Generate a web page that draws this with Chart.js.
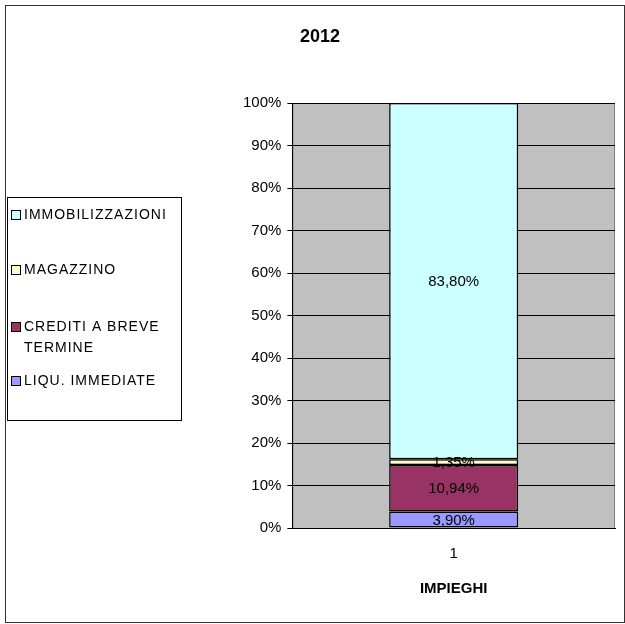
<!DOCTYPE html>
<html lang="it">
<head>
<meta charset="UTF-8">
<title>2012</title>
<script src="https://cdn.jsdelivr.net/npm/chart.js"></script>
<style>
  html, body { margin: 0; padding: 0; background: #fff; }
  #wrap { width: 625px; height: 624px; }
</style>
</head>
<body>
<div id="wrap"><canvas id="canvas" width="625" height="624"></canvas></div>
<script>
// data
const categories = ["1"];
const seriesNames = ["LIQU. IMMEDIATE", "CREDITI A BREVE TERMINE", "MAGAZZINO", "IMMOBILIZZAZIONI"];
const seriesValues = [[3.90], [10.94], [1.35], [83.80]];
const seriesColors = ["#9999FF", "#993366", "#FFFFCC", "#CCFFFF"];
const yTicks = [0, 10, 20, 30, 40, 50, 60, 70, 80, 90, 100];
const chartTitle = "2012";
const xTitle = "IMPIEGHI";

const FONT = "'Liberation Sans', Arial, sans-serif";

function pct(v) {
  return v.toFixed(2).replace(".", ",") + "%";
}

// gray plot background, outer frame, title, legend, value labels
const decor = {
  id: "decor",
  beforeDraw(chart) {
    const { ctx, chartArea: a } = chart;
    ctx.save();
    ctx.fillStyle = "#C0C0C0";
    ctx.fillRect(a.left, a.top, a.right - a.left, a.bottom - a.top);
    ctx.strokeStyle = "#808080";
    ctx.lineWidth = 1;
    ctx.strokeRect(a.left + 0.5, a.top + 0.5, a.right - a.left - 1, a.bottom - a.top);
    ctx.restore();
  },
  afterDraw(chart) {
    const { ctx } = chart;
    ctx.save();
    // outer frame
    ctx.strokeStyle = "#333";
    ctx.lineWidth = 1;
    ctx.strokeRect(5.5, 5.5, 619, 617);

    // title
    ctx.fillStyle = "#000";
    ctx.font = "bold 18px " + FONT;
    ctx.textAlign = "center";
    ctx.textBaseline = "middle";
    ctx.fillText(chartTitle, 320, 37);

    // legend box
    ctx.strokeStyle = "#000";
    ctx.strokeRect(7.5, 197.5, 174, 223);
    ctx.font = "14px " + FONT;
    ctx.letterSpacing = "1px";
    ctx.textAlign = "left";
    const rowsY = [215, 270, 327, 381];
    const ds = chart.data.datasets.slice().reverse();
    ds.forEach((d, i) => {
      const y = rowsY[i];
      ctx.fillStyle = d.backgroundColor;
      ctx.fillRect(11, y - 4, 9, 9);
      ctx.strokeStyle = "#000";
      ctx.strokeRect(11.5, y - 4.5, 9, 9);
      ctx.fillStyle = "#000";
      // simple word wrap
      const words = d.label.split(" ");
      let line = "", ly = y;
      words.forEach(w => {
        const test = line ? line + " " + w : w;
        if (ctx.measureText(test).width > 152 && line) {
          ctx.fillText(line, 24, ly);
          line = w;
          ly += 21;
        } else {
          line = test;
        }
      });
      ctx.fillText(line, 24, ly);
    });
    ctx.letterSpacing = "0px";

    // value labels
    ctx.font = "15px " + FONT;
    ctx.textAlign = "center";
    ctx.fillStyle = "#000";
    chart.data.datasets.forEach((d, i) => {
      const meta = chart.getDatasetMeta(i);
      meta.data.forEach((bar, j) => {
        const p = bar.getProps(["x", "y", "base"], true);
        ctx.fillText(pct(d.data[j]), p.x, (p.y + p.base) / 2 + 1);
      });
    });
    ctx.restore();
  }
};

const config = {
  type: "bar",
  data: {
    labels: categories,
    datasets: seriesNames.map((n, i) => ({
      label: n,
      data: seriesValues[i],
      backgroundColor: seriesColors[i],
      borderColor: "#000",
      borderWidth: 1.5,
      borderSkipped: false,
      barPercentage: 0.40,
      categoryPercentage: 1
    }))
  },
  options: {
    responsive: false,
    animation: false,
    layout: { padding: { left: 237, right: 10, top: 103, bottom: 22 } },
    plugins: {
      legend: { display: false },
      title: { display: false },
      tooltip: { enabled: false }
    },
    scales: {
      x: {
        stacked: true,
        grid: { display: false, drawTicks: false },
        border: { color: "#000", width: 1 },
        ticks: { color: "#000", font: { family: FONT, size: 15 }, padding: 17 },
        title: { display: true, text: xTitle, color: "#000", font: { family: FONT, size: 15, weight: "bold" }, padding: { top: 0 } }
      },
      y: {
        stacked: true,
        min: 0,
        max: 100,
        afterBuildTicks(axis) { axis.ticks = yTicks.map(v => ({ value: v })); },
        grid: { color: "#000", lineWidth: 1, tickLength: 5, drawOnChartArea: true },
        border: { color: "#000", width: 1 },
        ticks: { color: "#000", font: { family: FONT, size: 15 }, padding: 6, callback: v => v + "%" }
      }
    }
  },
  plugins: [decor]
};

new Chart(document.getElementById("canvas"), config);
</script>
</body>
</html>
